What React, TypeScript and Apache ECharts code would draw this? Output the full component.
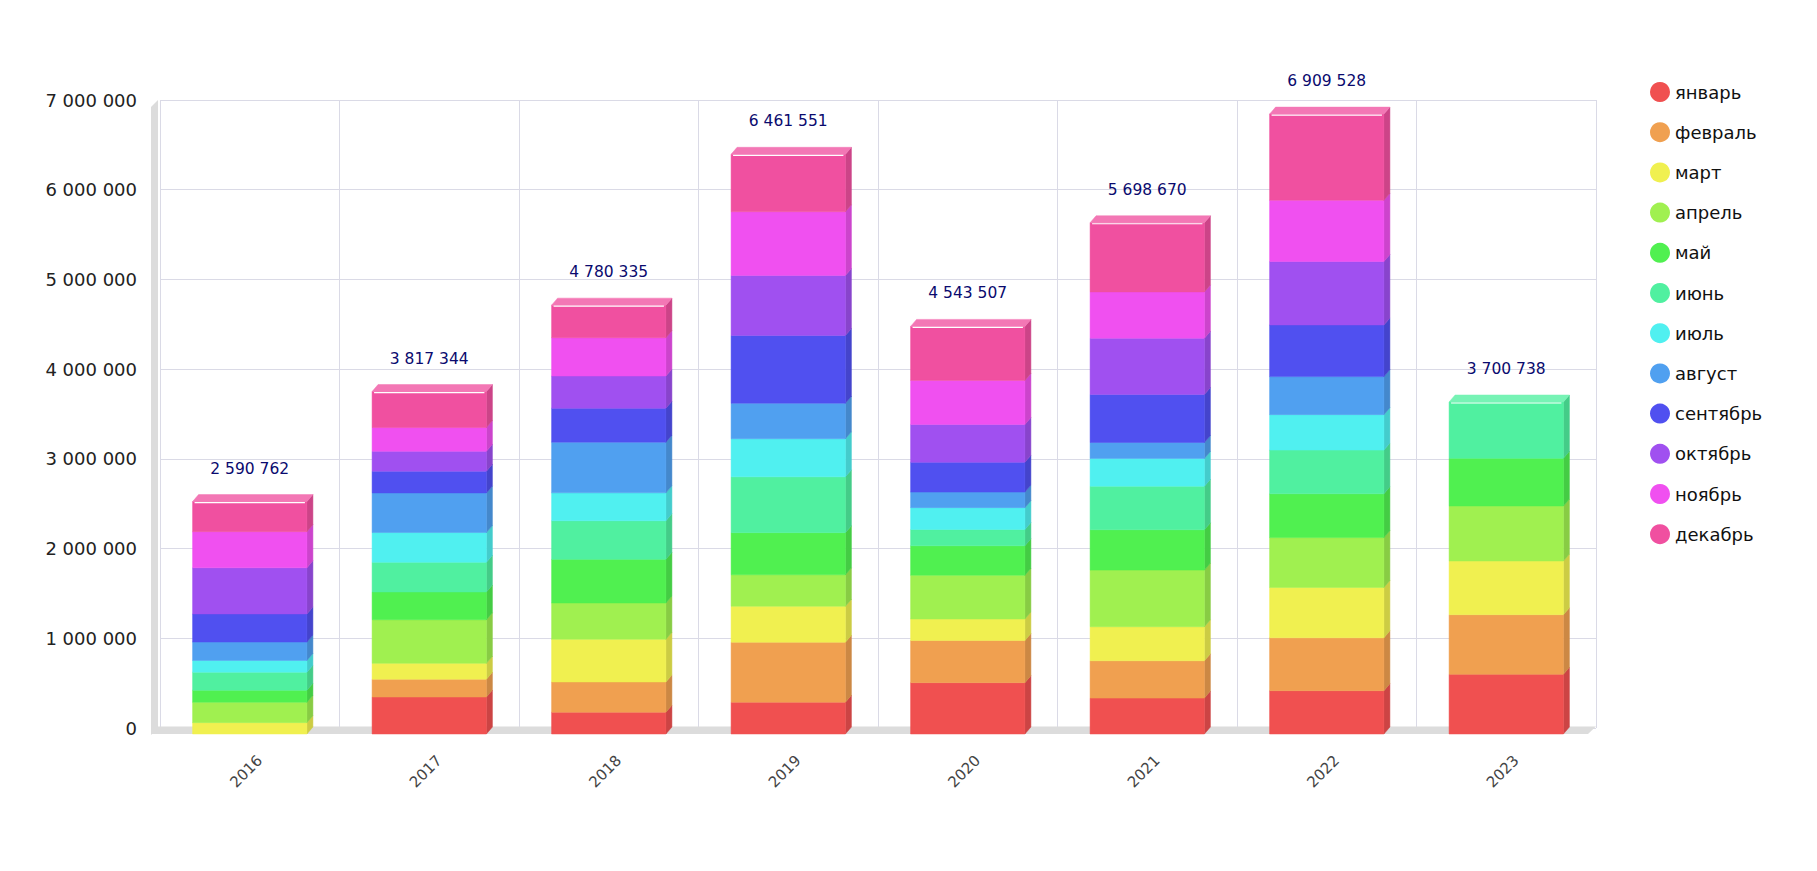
import React, { useEffect, useRef } from "react";
import * as echarts from "echarts";

const categories = ["2016", "2017", "2018", "2019", "2020", "2021", "2022", "2023"];
const months = ["январь", "февраль", "март", "апрель", "май", "июнь", "июль", "август", "сентябрь", "октябрь", "ноябрь", "декабрь"];
const colors = ["#F05050", "#F0A050", "#F0F050", "#A0F050", "#50F050", "#50F0A0", "#50F0F0", "#50A0F0", "#5050F0", "#A050F0", "#F050F0", "#F050A0"];

const jan = [0, 412300, 243300, 354900, 572600, 400000, 482700, 664800];
const feb = [0, 198800, 336900, 668300, 469100, 416500, 590000, 664800];
const mar = [126700, 176700, 475400, 401000, 240100, 379400, 560800, 598300];
const apr = [227400, 485900, 404300, 350300, 487600, 630900, 555900, 613100];
const may = [134200, 309200, 486600, 470100, 328800, 449500, 487600, 531800];
const jun = [201300, 331300, 430500, 622200, 181000, 486600, 487600, 627938];
const jul = [130500, 331300, 310700, 424000, 243800, 309300, 395000, null];
const aug = [205000, 441700, 565300, 396400, 173600, 177300, 424200, null];
const sep = [313100, 242900, 378100, 755800, 332500, 536100, 575400, null];
const oct = [514400, 220900, 359400, 668300, 421100, 626800, 707100, null];
const nov = [402600, 265000, 426700, 709800, 491300, 515400, 682700, null];
const dec = [335562, 401344, 363135, 640451, 602007, 770870, 960528, null];

const yTicks = { min: 0, max: 7000000, interval: 1000000 };

const monthValues: (number | null)[][] = [jan, feb, mar, apr, may, jun, jul, aug, sep, oct, nov, dec];

const fmt = (n: number) => String(Math.round(n)).replace(/\B(?=(\d{3})+(?!\d))/g, " ");

function shade(hex: string, f: number) {
  const n = parseInt(hex.slice(1), 16);
  const r = Math.round(((n >> 16) & 255) * f);
  const g = Math.round(((n >> 8) & 255) * f);
  const b = Math.round((n & 255) * f);
  return `rgb(${r},${g},${b})`;
}
function tint(hex: string, t: number) {
  const n = parseInt(hex.slice(1), 16);
  const c = [(n >> 16) & 255, (n >> 8) & 255, n & 255].map((v) => Math.round(v + (255 - v) * t));
  return `rgb(${c[0]},${c[1]},${c[2]})`;
}

export default function App() {
  const ref = useRef<HTMLDivElement>(null);
  useEffect(() => {
    if (!ref.current) return;
    const chart = echarts.init(ref.current, null, { renderer: "svg" });

    const totals = categories.map((_, ci) => monthValues.reduce((s, arr) => s + (arr[ci] || 0), 0));
    const topIndex = categories.map((_, ci) => {
      let t = -1;
      monthValues.forEach((arr, m) => {
        if ((arr[ci] || 0) > 0) t = m;
      });
      return t;
    });
    const bases = categories.map(() => 0);

    const FRONT = 6;
    const DX = 6;
    const DY = 7;
    const FONT = "DejaVu Sans, Verdana, sans-serif";

    const monthSeries = months.map((name, m) => {
      const data: any[] = [];
      categories.forEach((_, ci) => {
        const v = monthValues[m][ci];
        if (v == null) return;
        const b = bases[ci];
        data.push([ci, b, b + v]);
        bases[ci] = b + v;
      });
      const col = colors[m];
      return {
        type: "custom",
        name,
        z: 2,
        itemStyle: { color: col },
        encode: { x: 0, y: [1, 2] },
        data,
        renderItem: (params: any, api: any) => {
          const ci = api.value(0);
          const base = api.value(1);
          const top = api.value(2);
          if (!(top > base)) return { type: "group", children: [] };
          const pb = api.coord([ci, base]);
          const pt = api.coord([ci, top]);
          const bw = api.size([1, 0])[0] * 0.637;
          const cx = pb[0];
          const xl = cx - bw / 2;
          const xr = cx + bw / 2;
          const yb = pb[1] + FRONT;
          const yt = pt[1] + FRONT;
          const children: any[] = [
            {
              type: "polygon",
              shape: { points: [[xr, yt], [xr + DX, yt - DY], [xr + DX, yb - DY], [xr, yb]] },
              style: { fill: shade(col, 0.85), stroke: shade(col, 0.85), lineWidth: 0.5 },
            },
            {
              type: "rect",
              shape: { x: xl, y: yt, width: bw, height: yb - yt },
              style: { fill: col, stroke: col, lineWidth: 0.5 },
            },
          ];
          if (topIndex[ci] === m) {
            children.push({
              type: "polygon",
              shape: { points: [[xl, yt], [xl + DX, yt - DY], [xr + DX, yt - DY], [xr, yt]] },
              style: { fill: tint(col, 0.22), stroke: tint(col, 0.22), lineWidth: 0.5 },
            });
            children.push({
              type: "line",
              shape: { x1: xl + 2, y1: yt + 1, x2: xr - 2, y2: yt + 1 },
              style: { stroke: "#ffffff", lineWidth: 1.2 },
            });
            children.push({
              type: "text",
              x: cx,
              y: yt - 33,
              style: {
                text: fmt(totals[ci]),
                align: "center",
                verticalAlign: "middle",
                fill: "#0a0a6e",
                fontSize: 15.5,
                fontFamily: FONT,
              },
            });
          }
          return { type: "group", children };
        },
      };
    });

    const frameSeries = {
      type: "custom",
      name: "frame",
      z: 1,
      silent: true,
      clip: false,
      encode: { x: 0, y: 1 },
      data: [[0, 0]],
      renderItem: (params: any, api: any) => {
        const cs = params.coordSys;
        const X0 = cs.x;
        const Y0 = cs.y;
        const X1 = cs.x + cs.width;
        const Y1 = cs.y + cs.height;
        const gray = "#DCDCDC";
        const children: any[] = [
          {
            type: "polygon",
            shape: { points: [[X0 - 9, Y0 + 7], [X0 - 2, Y0], [X0 - 2, Y1], [X0 - 9, Y1 + 7]] },
            style: { fill: gray },
          },
          {
            type: "polygon",
            shape: { points: [[X0 - 9, Y1 + 6], [X0 - 2, Y1 - 1.5], [X1, Y1 - 1.5], [X1 - 8, Y1 + 6]] },
            style: { fill: gray },
          },
        ];
        categories.forEach((c, i) => {
          const p = api.coord([i, 0]);
          children.push({
            type: "text",
            x: p[0] + 10,
            y: Y1 + 30,
            rotation: Math.PI / 4,
            style: {
              text: c,
              align: "right",
              verticalAlign: "middle",
              fill: "#444444",
              fontSize: 15,
              fontFamily: FONT,
            },
          });
        });
        return { type: "group", children };
      },
    };

    chart.setOption({
      animation: false,
      backgroundColor: "#ffffff",
      grid: { left: 160, right: 221, top: 100, bottom: 143 },
      legend: {
        data: months,
        orient: "vertical",
        left: 1645,
        top: 77,
        icon: "circle",
        itemWidth: 20,
        itemHeight: 20,
        itemGap: 20.2,
        selectedMode: false,
        textStyle: { color: "#111111", fontSize: 18, fontFamily: FONT },
      },
      xAxis: {
        type: "category",
        data: categories,
        axisLine: { show: false },
        axisTick: { show: false },
        axisLabel: { show: false },
        splitLine: { show: true, lineStyle: { color: "#DADAE6", width: 1 } },
      },
      yAxis: {
        type: "value",
        min: yTicks.min,
        max: yTicks.max,
        interval: yTicks.interval,
        axisLine: { show: false },
        axisTick: { show: false },
        axisLabel: {
          margin: 23,
          color: "#222222",
          fontSize: 18,
          fontFamily: FONT,
          formatter: (v: number) => fmt(v),
        },
        splitLine: { show: true, lineStyle: { color: "#DADAE6", width: 1 } },
      },
      series: [frameSeries, ...monthSeries],
    } as any);

    return () => chart.dispose();
  }, []);

  return <div ref={ref} style={{ position: "fixed", left: 0, top: 0, width: 1817, height: 871 }} />;
}
